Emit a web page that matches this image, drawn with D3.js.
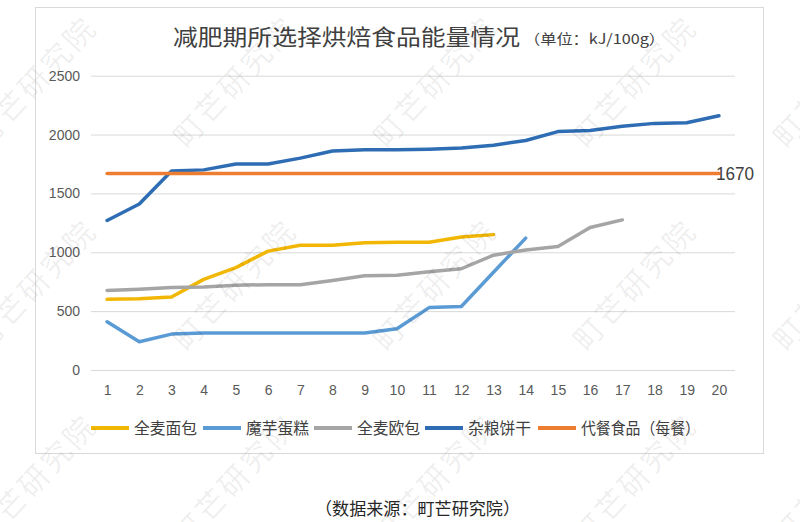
<!DOCTYPE html>
<html>
<head>
<meta charset="utf-8">
<script src="https://cdn.jsdelivr.net/npm/d3@7"></script>
<style>
  html, body { margin: 0; padding: 0; background: #ffffff; }
  svg { display: block; }
</style>
</head>
<body>
<svg id="chart" width="800" height="522"></svg>
<script>
const categories = [1, 2, 3, 4, 5, 6, 7, 8, 9, 10, 11, 12, 13, 14, 15, 16, 17, 18, 19, 20];
const yTicks = [0, 500, 1000, 1500, 2000, 2500];

const wholeWheatBread = [600, 605, 620, 770, 870, 1010, 1060, 1060, 1080, 1085, 1085, 1130, 1150];
const konjacCake = [410, 240, 305, 315, 315, 315, 315, 315, 315, 350, 530, 540, 830, 1120];
const wholeWheatEuro = [675, 685, 700, 705, 720, 725, 725, 760, 800, 805, 835, 860, 975, 1020, 1050, 1210, 1275];
const grainBiscuit = [1270, 1410, 1690, 1700, 1750, 1750, 1800, 1860, 1870, 1870, 1875, 1885, 1910, 1950, 2025, 2035, 2070, 2095, 2100, 2160];
const mealReplacement = [1670, 1670, 1670, 1670, 1670, 1670, 1670, 1670, 1670, 1670, 1670, 1670, 1670, 1670, 1670, 1670, 1670, 1670, 1670, 1670];

const seriesNames = ["全麦面包", "魔芋蛋糕", "全麦欧包", "杂粮饼干", "代餐食品（每餐）"];
const seriesValues = [wholeWheatBread, konjacCake, wholeWheatEuro, grainBiscuit, mealReplacement];
const seriesColors = ["#f2b705", "#5b9bd5", "#a5a5a5", "#2e6db4", "#ed7d31"];

const CJK = "'Noto Sans CJK SC', 'Noto Sans', sans-serif";
const NUM = "'Liberation Sans', Arial, sans-serif";

const svg = d3.select("#chart");
const plot = { left: 91, right: 735, top: 75.7, bottom: 370 };

const x = d3.scalePoint().domain(categories).range([plot.left, plot.right]).padding(0.5);
const y = d3.scaleLinear().domain([0, 2500]).range([plot.bottom, plot.top]);

svg.append("rect").attr("width", 800).attr("height", 522).attr("fill", "#ffffff");
svg.append("rect")
  .attr("x", 35.5).attr("y", 7.5).attr("width", 728).attr("height", 446)
  .attr("fill", "#ffffff").attr("stroke", "#d9d9d9").attr("stroke-width", 1);

// gridlines + y labels
const yAxis = svg.append("g")
  .attr("transform", `translate(${plot.left},0)`)
  .call(d3.axisLeft(y).tickValues(yTicks).tickFormat(d3.format("d"))
    .tickSize(-(plot.right - plot.left)).tickPadding(11));
yAxis.select(".domain").remove();
yAxis.selectAll("line").attr("stroke", "#d9d9d9").attr("stroke-width", 1);
yAxis.selectAll("text").attr("fill", "#595959").style("font", `14px ${NUM}`);

const xAxis = svg.append("g")
  .attr("transform", `translate(0,${plot.bottom})`)
  .call(d3.axisBottom(x).tickSize(0).tickPadding(15));
xAxis.select(".domain").remove();
xAxis.selectAll("text").attr("fill", "#595959").style("font", `14px ${NUM}`);

// series lines
const line = d3.line()
  .x((d, i) => x(categories[i]))
  .y((d) => y(d));

svg.append("g")
  .selectAll("path")
  .data(seriesValues)
  .join("path")
  .attr("d", (values) => line(values))
  .attr("fill", "none")
  .attr("stroke", (values, i) => seriesColors[i])
  .attr("stroke-width", 3.5)
  .attr("stroke-linejoin", "round")
  .attr("stroke-linecap", "round");

// data label on the meal replacement line
const lastIndex = mealReplacement.length - 1;
svg.append("text")
  .attr("x", x(categories[lastIndex]) - 3)
  .attr("y", y(mealReplacement[lastIndex]) + 6.5)
  .attr("fill", "#404040")
  .attr("textLength", 38).attr("lengthAdjust", "spacingAndGlyphs")
  .style("font", `18px ${NUM}`)
  .text(mealReplacement[lastIndex]);

// title
svg.append("text")
  .attr("x", 173).attr("y", 45)
  .attr("fill", "#404040")
  .attr("textLength", 347).attr("lengthAdjust", "spacingAndGlyphs")
  .style("font", `22px ${CJK}`)
  .text("减肥期所选择烘焙食品能量情况");
svg.append("text")
  .attr("x", 524).attr("y", 44)
  .attr("fill", "#404040")
  .attr("textLength", 141).attr("lengthAdjust", "spacingAndGlyphs")
  .style("font", `14px ${CJK}`)
  .text("（单位：kJ/100g）");

// legend
const legendStarts = [91, 203, 314, 425, 538];
const legendTextWidths = [63, 63, 63, 63, 119];
const legend = svg.append("g")
  .selectAll("g")
  .data(seriesNames)
  .join("g")
  .attr("transform", (d, i) => `translate(${legendStarts[i]},428)`);
legend.append("line")
  .attr("x1", 0).attr("x2", 38).attr("y1", 0).attr("y2", 0)
  .attr("stroke", (d, i) => seriesColors[i])
  .attr("stroke-width", 4);
legend.append("text")
  .attr("x", 43).attr("y", 6)
  .attr("fill", "#404040")
  .attr("textLength", (d, i) => legendTextWidths[i]).attr("lengthAdjust", "spacingAndGlyphs")
  .style("font", `16px ${CJK}`)
  .text((d) => d);

// source
svg.append("text")
  .attr("x", 315).attr("y", 515)
  .attr("fill", "#262626")
  .attr("textLength", 205).attr("lengthAdjust", "spacingAndGlyphs")
  .style("font", `17px ${CJK}`)
  .text("（数据来源：町芒研究院）");

// watermark
const markCols = [35, 235, 435, 635, 835];
const markRows = [82, 285, 480];
const marks = [];
markRows.forEach((row) => markCols.forEach((col) => marks.push([col, row])));
svg.append("g")
  .attr("pointer-events", "none")
  .selectAll("text")
  .data(marks)
  .join("text")
  .attr("transform", (d) => `translate(${d[0]},${d[1]}) rotate(-47)`)
  .attr("text-anchor", "middle")
  .attr("dy", "0.35em")
  .attr("fill", "#000000")
  .attr("fill-opacity", 0.07)
  .attr("letter-spacing", 3)
  .style("font", `30px ${CJK}`)
  .text("町芒研究院");
</script>
</body>
</html>
